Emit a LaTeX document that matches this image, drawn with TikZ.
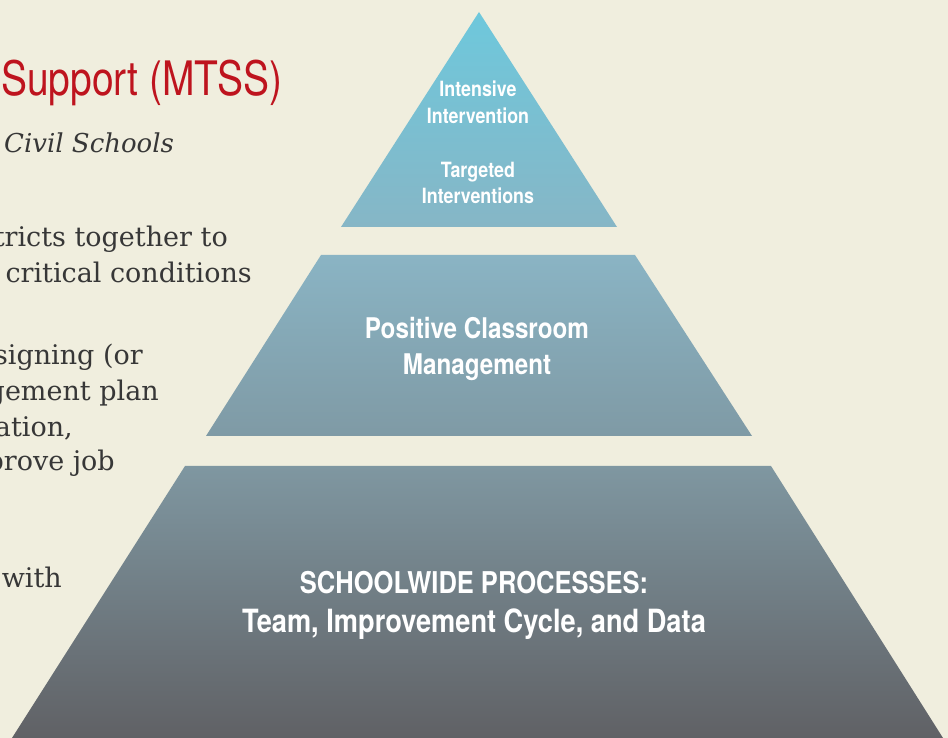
\documentclass[tikz,border=0pt]{standalone}
\usepackage{xcolor}
\usepackage{fontspec}
\usepackage{tikz}
\usetikzlibrary{positioning}

\newfontfamily\bodyserif{DejaVu Serif}
\newfontfamily\titlesans[FakeStretch=0.82]{TeX Gyre Heros}
\newfontfamily\tiersans[FakeStretch=0.85]{TeX Gyre Heros}

\definecolor{paper}{RGB}{240,238,222}
\definecolor{titlered}{RGB}{190,20,30}
\definecolor{bodyink}{RGB}{55,55,55}
\definecolor{tipTop}{RGB}{110,200,220}
\definecolor{tipBottom}{RGB}{134,182,198}
\definecolor{midTop}{RGB}{138,180,196}
\definecolor{midBottom}{RGB}{127,154,165}
\definecolor{baseTop}{RGB}{127,151,161}
\definecolor{baseBottom}{RGB}{96,97,101}

\begin{document}
\begin{tikzpicture}[x=1pt, y=1pt,
    body/.style={font=\bodyserif\fontsize{27}{31}\selectfont, text=bodyink, inner sep=0pt, anchor=base east},
    tier text/.style={font=\tiersans\bfseries\fontsize{#1}{#1}\selectfont, text=white, inner sep=0pt, anchor=base}]
    \fill[paper] (0,0) rectangle (948,738);
    \useasboundingbox (0,0) rectangle (948,738);

    \shade[top color=tipTop, bottom color=tipBottom] (479,726) -- (617,511) -- (341,511) -- cycle;
    \shade[top color=midTop, bottom color=midBottom] (321,483) -- (635,483) -- (752,302) -- (206,302) -- cycle;
    \shade[top color=baseTop, bottom color=baseBottom] (185,272) -- (771,272) -- (943,0) -- (12,0) -- cycle;

    \node[font=\titlesans\fontsize{47.5}{50}\selectfont, text=titlered, inner sep=0pt, anchor=base west] (title) at (1,642) {Support (MTSS)};
    \node[body, font=\bodyserif\itshape\fontsize{26}{30}\selectfont, anchor=base west] (schools) at (4,585) {Civil Schools};

    \node[body] (together) at (228,491) {tricts together to};
    \node[body] (conditions) at (252,455) {critical conditions};
    \node[body] (designing) at (143,373) {signing (or};
    \node[body] (plan) at (159,337) {gement plan};
    \node[body] (ation) at (73,301) {ation,};
    \node[body] (improve) at (115,267) {prove job};
    \node[body] (with) at (62,150) {with};

    \node[tier text=21] (intensive) at (478,641) {Intensive};
    \node[tier text=21] (intervention) at (478,614) {Intervention};
    \node[tier text=21] (targeted) at (478,560) {Targeted};
    \node[tier text=21] (interventions) at (478,534) {Interventions};
    \node[tier text=28.5] (positive) at (477,399) {Positive Classroom};
    \node[tier text=28.5] (management) at (477,363) {Management};
    \node[tier text=30] (processes) at (474,144) {SCHOOLWIDE PROCESSES:};
    \node[tier text=32] (team) at (474,105) {Team, Improvement Cycle, and Data};
\end{tikzpicture}
\end{document}
